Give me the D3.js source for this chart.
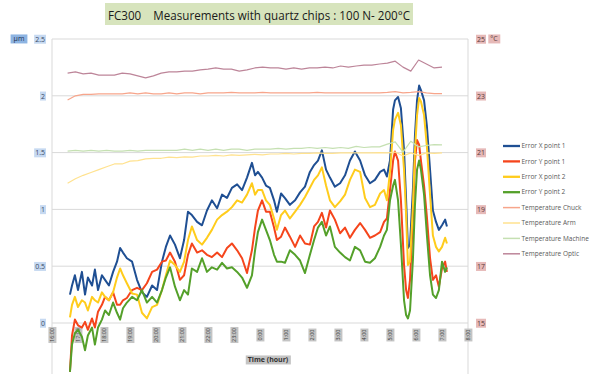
<!DOCTYPE html>
<html>
<head>
<meta charset="utf-8">
<script src="https://cdn.jsdelivr.net/npm/d3@7"></script>
<style>
body { margin: 0; background: #fff; }
svg { font-family: "Open Sans", "Liberation Sans", sans-serif; }
</style>
</head>
<body>
<svg id="chart" width="603" height="374"></svg>
<script>
// hours after 16:00
const errHours = [0.69,0.77,0.88,1.00,1.15,1.27,1.38,1.54,1.65,1.77,
	1.92,2.04,2.19,2.35,2.50,2.62,2.73,2.88,3.08,3.27,
	3.46,3.65,3.85,4.04,4.23,4.38,4.54,4.73,4.92,5.08,
	5.23,5.38,5.58,5.77,5.96,6.15,6.35,6.54,6.73,6.92,
	7.12,7.31,7.50,7.69,7.81,7.92,8.08,8.23,8.38,8.54,
	8.65,8.81,8.96,9.15,9.35,9.54,9.73,9.92,10.08,10.23,
	10.38,10.54,10.69,10.88,11.08,11.27,11.46,11.65,11.85,12.04,
	12.23,12.42,12.62,12.77,12.88,13.00,13.12,13.19,13.31,13.42,
	13.54,13.62,13.69,13.77,13.88,13.96,14.04,14.12,14.19,14.31,
	14.42,14.54,14.65,14.77,14.88,15.00,15.12,15.19]

const errXp1 = [0.25,0.33,0.42,0.29,0.45,0.25,0.40,0.33,0.47,0.29,
	0.42,0.38,0.33,0.45,0.54,0.66,0.62,0.57,0.54,0.38,
	0.27,0.23,0.33,0.29,0.54,0.67,0.77,0.69,0.57,0.73,
	0.98,0.95,0.89,0.86,0.99,1.08,1.01,1.13,1.10,1.19,
	1.22,1.17,1.28,1.41,1.30,1.33,1.28,1.21,1.19,1.08,
	0.98,1.14,1.10,1.04,1.08,1.15,1.20,1.33,1.39,1.43,
	1.52,1.35,1.28,1.20,1.23,1.30,1.43,1.51,1.43,1.30,
	1.23,1.26,1.33,1.35,1.29,1.43,1.88,1.96,1.99,1.89,
	1.52,1.08,0.66,0.69,1.17,1.65,1.96,2.09,2.05,1.96,
	1.73,1.35,0.99,0.89,0.82,0.86,0.91,0.85]

const errYp1 = [-0.43,-0.11,0.03,-0.02,-0.04,0.01,-0.06,0.04,-0.04,0.10,
	0.16,0.23,0.20,0.27,0.16,0.16,0.20,0.22,0.29,0.31,
	0.29,0.35,0.45,0.47,0.54,0.55,0.62,0.54,0.38,0.42,
	0.60,0.70,0.62,0.64,0.60,0.58,0.62,0.58,0.66,0.70,
	0.64,0.57,0.44,0.64,0.84,0.99,1.08,0.98,0.98,0.84,
	0.73,0.76,0.84,0.76,0.67,0.77,0.70,0.69,0.85,0.89,
	0.97,0.84,0.99,0.91,0.79,0.84,0.75,0.82,0.88,0.82,
	0.75,0.77,0.80,0.89,0.92,1.17,1.43,1.51,1.43,1.08,
	0.51,0.29,0.22,0.38,0.91,1.43,1.61,1.57,1.43,1.21,
	0.93,0.57,0.38,0.42,0.32,0.48,0.54,0.45]

const errXp2 = [0.05,0.16,0.23,0.14,0.20,0.18,0.11,0.23,0.20,0.18,
	0.27,0.23,0.20,0.27,0.40,0.48,0.42,0.35,0.26,0.25,
	0.09,0.04,0.14,0.16,0.29,0.42,0.55,0.51,0.45,0.54,
	0.73,0.85,0.73,0.69,0.75,0.82,0.91,0.95,0.98,1.02,
	1.08,1.06,1.13,1.23,1.13,1.17,1.17,1.08,1.04,0.92,
	0.82,0.95,0.99,0.92,0.98,1.04,1.11,1.19,1.26,1.30,
	1.37,1.21,1.08,1.02,1.07,1.13,1.26,1.35,1.33,1.10,
	1.02,1.04,1.14,1.17,1.08,1.33,1.70,1.79,1.85,1.74,
	1.35,0.95,0.51,0.54,1.02,1.52,1.83,1.98,1.95,1.83,
	1.55,1.13,0.77,0.67,0.63,0.67,0.75,0.70]

const errYp2 = [-0.43,-0.19,-0.09,-0.06,-0.12,-0.24,-0.11,-0.04,-0.19,-0.04,
	0.03,0.11,0.07,0.18,0.09,0.03,0.13,0.18,0.23,0.20,
	0.29,0.18,0.23,0.18,0.29,0.40,0.49,0.32,0.20,0.29,
	0.25,0.48,0.45,0.57,0.45,0.49,0.47,0.53,0.48,0.49,
	0.45,0.40,0.31,0.42,0.64,0.80,0.91,0.82,0.73,0.60,
	0.54,0.54,0.53,0.64,0.60,0.55,0.44,0.60,0.73,0.84,
	0.89,0.77,0.85,0.67,0.62,0.58,0.55,0.67,0.64,0.54,
	0.53,0.57,0.67,0.77,0.82,1.08,1.21,1.26,1.08,0.69,
	0.20,0.07,0.04,0.11,0.55,1.04,1.35,1.43,1.35,1.13,
	0.77,0.42,0.25,0.22,0.29,0.54,0.45,0.49]

const tempHours = [0.6,0.9,1.2,1.5,1.8,2.1,2.4,2.7,3.0,3.3,
	3.6,3.9,4.2,4.5,4.8,5.1,5.4,5.7,6.0,6.3,
	6.6,6.9,7.2,7.5,7.8,8.1,8.4,8.7,9.0,9.3,
	9.6,9.9,10.2,10.5,10.8,11.1,11.4,11.7,12.0,12.3,
	12.6,12.9,13.2,13.5,13.8,14.1,14.4,14.7,15.0]

const tempChuck = [22.85,23.00,23.05,23.05,23.07,23.07,23.07,23.07,23.10,23.07,
	23.10,23.07,23.07,23.10,23.07,23.10,23.10,23.07,23.10,23.10,
	23.10,23.12,23.10,23.10,23.10,23.12,23.10,23.10,23.10,23.10,
	23.10,23.10,23.12,23.10,23.10,23.10,23.10,23.10,23.10,23.10,
	23.10,23.12,23.15,23.10,23.12,23.15,23.10,23.08,23.08]

const tempArm = [19.92,20.08,20.20,20.30,20.40,20.50,20.60,20.60,20.70,20.72,
	20.78,20.80,20.80,20.84,20.82,20.85,20.84,20.88,20.88,20.90,
	20.88,20.92,20.90,20.92,20.94,20.92,20.95,20.95,20.97,20.95,
	20.97,20.97,20.99,20.97,20.97,20.99,20.99,20.99,20.99,20.99,
	21.00,20.99,21.02,20.88,20.99,20.90,20.99,20.97,20.99]

const tempMachine = [21.05,21.08,21.05,21.08,21.05,21.08,21.05,21.05,21.08,21.05,
	21.08,21.08,21.08,21.08,21.08,21.12,21.08,21.12,21.08,21.12,
	21.08,21.12,21.12,21.08,21.12,21.12,21.12,21.15,21.12,21.15,
	21.15,21.18,21.15,21.18,21.15,21.18,21.15,21.22,21.18,21.20,
	21.20,21.30,21.38,21.02,21.40,21.20,21.25,21.28,21.27]

const tempOptic = [23.80,23.84,23.77,23.80,23.73,23.73,23.73,23.80,23.77,23.70,
	23.63,23.70,23.80,23.84,23.84,23.87,23.87,23.91,23.94,23.98,
	23.94,23.94,23.87,23.91,23.98,24.01,23.98,23.98,23.94,23.98,
	23.94,23.98,23.98,24.01,23.98,24.05,24.01,24.05,24.08,24.08,
	24.12,24.15,24.22,24.01,23.87,24.26,24.12,23.98,24.01]

const umTicks = [0, 0.5, 1, 1.5, 2, 2.5]
const degTicks = [15, 17, 19, 21, 23, 25]
const hourLabels = ['16:00','17:00','18:00','19:00','20:00','21:00','22:00','23:00','0:00',
	'1:00','2:00','3:00','4:00','5:00','6:00','7:00','8:00']

const seriesNames = ['Error X point 1', 'Error Y point 1', 'Error X point 2', 'Error Y point 2',
	'Temperature Chuck', 'Temperature Arm', 'Temperature Machine', 'Temperature Optic']
const seriesColors = ['#1f4f93', '#f5451c', '#ffcc1c', '#54a02a',
	'#f7a58b', '#ffe28f', '#c5e0b2', '#bd8599']

const svg = d3.select('#chart')

let plotLeft = 52, plotRight = 468, plotTop = 39, plotBottom = 323

let x = d3.scaleLinear().domain([0, 16]).range([plotLeft, plotRight])
let yUm = d3.scaleLinear().domain([0, 2.5]).range([plotBottom, plotTop])
let yDeg = d3.scaleLinear().domain([15, 25]).range([plotBottom, plotTop])

let series = [
	{ hours: errHours, values: errXp1, y: yUm, w: 2 },
	{ hours: errHours, values: errYp1, y: yUm, w: 2 },
	{ hours: errHours, values: errXp2, y: yUm, w: 2 },
	{ hours: errHours, values: errYp2, y: yUm, w: 2 },
	{ hours: tempHours, values: tempChuck, y: yDeg, w: 1.2 },
	{ hours: tempHours, values: tempArm, y: yDeg, w: 1.2 },
	{ hours: tempHours, values: tempMachine, y: yDeg, w: 1.2 },
	{ hours: tempHours, values: tempOptic, y: yDeg, w: 1.2 }
]
series.forEach((s, i) => { s.name = seriesNames[i]; s.color = seriesColors[i] })

// put a filled box behind each label (same transform as the text)
function addBoxes(sel, fill, pad) {
	sel.each(function () {
		let t = d3.select(this)
		let b = this.getBBox()
		d3.select(this.parentNode).insert('rect', 'text')
			.attr('x', b.x - pad)
			.attr('y', b.y)
			.attr('width', b.width + pad * 2)
			.attr('height', b.height)
			.attr('transform', t.attr('transform'))
			.attr('fill', fill)
	})
}

function setupChart() {
	// title
	svg.append('rect')
		.attr('x', 105).attr('y', 3)
		.attr('width', 308).attr('height', 22)
		.attr('fill', '#d7e4bd')
	svg.append('text')
		.attr('x', 259).attr('y', 19.5)
		.attr('text-anchor', 'middle')
		.attr('font-size', 13)
		.attr('fill', '#1a1a1a')
		.attr('textLength', 302)
		.attr('lengthAdjust', 'spacingAndGlyphs')
		.style('white-space', 'pre')
		.text('FC300    Measurements with quartz chips : 100 N- 200°C')

	// grid
	svg.append('g').selectAll('line')
		.data(umTicks)
		.enter()
		.append('line')
			.attr('x1', plotLeft).attr('x2', plotRight)
			.attr('y1', d => yUm(d)).attr('y2', d => yUm(d))
			.attr('stroke', '#d9d9d9')
	svg.append('g').selectAll('line')
		.data([plotLeft, plotRight])
		.enter()
		.append('line')
			.attr('x1', d => d).attr('x2', d => d)
			.attr('y1', plotTop).attr('y2', 374)
			.attr('stroke', '#d9d9d9')

	// left axis
	let gL = svg.append('g')
		.attr('transform', 'translate(45,0)')
		.call(d3.axisLeft(yUm).tickValues(umTicks).tickSize(0).tickPadding(0).tickFormat(d3.format('')))
	gL.select('.domain').remove()
	gL.selectAll('text').attr('font-size', 7).attr('fill', '#3a4a66')
	gL.attr('font-family', null)
	addBoxes(gL.selectAll('text'), '#c6d9f1', 1)

	// right axis
	let gR = svg.append('g')
		.attr('transform', 'translate(477,0)')
		.call(d3.axisRight(yDeg).tickValues(degTicks).tickSize(0).tickPadding(0))
	gR.select('.domain').remove()
	gR.selectAll('text').attr('font-size', 7).attr('fill', '#5a3a3a')
	gR.attr('font-family', null)
	addBoxes(gR.selectAll('text'), '#e6b9b8', 1)

	// bottom axis
	let gB = svg.append('g')
		.attr('transform', 'translate(0,' + plotBottom + ')')
		.call(d3.axisBottom(x).tickValues(hourLabels.map((d, i) => i)).tickSize(0).tickFormat((d, i) => hourLabels[i]))
	gB.select('.domain').remove()
	gB.attr('font-family', null)
	gB.selectAll('text')
		.attr('font-size', 5.5)
		.attr('fill', '#404040')
		.attr('x', 0).attr('y', 0)
		.attr('dy', '0.35em')
		.attr('text-anchor', 'middle')
		.attr('transform', 'translate(0,12) rotate(-90)')
	addBoxes(gB.selectAll('text'), '#c4c4c4', 1)

	// unit labels
	let units = svg.append('g')
	units.append('text')
		.attr('x', 19).attr('y', 39).attr('dy', '0.35em')
		.attr('text-anchor', 'middle').attr('font-size', 7).attr('fill', '#1f2f4f')
		.text('µm')
	units.append('text')
		.attr('x', 494).attr('y', 39).attr('dy', '0.35em')
		.attr('text-anchor', 'middle').attr('font-size', 7).attr('fill', '#5a3a3a')
		.text('°C')
	units.append('text')
		.attr('x', 268).attr('y', 360).attr('dy', '0.35em')
		.attr('text-anchor', 'middle').attr('font-size', 7).attr('font-weight', 'bold').attr('fill', '#333')
		.text('Time (hour)')
	addBoxes(units.selectAll('text').filter((d, i) => i == 0), '#8db4e2', 3)
	addBoxes(units.selectAll('text').filter((d, i) => i == 1), '#e6b9b8', 2)
	addBoxes(units.selectAll('text').filter((d, i) => i == 2), '#c4c4c4', 2)

	// lines
	svg.append('g').selectAll('path')
		.data(series)
		.enter()
		.append('path')
			.attr('fill', 'none')
			.attr('stroke', d => d.color)
			.attr('stroke-width', d => d.w)
			.attr('stroke-linejoin', 'round')
			.attr('d', s => d3.line()
				.x(d => x(d))
				.y((d, i) => s.y(s.values[i]))(s.hours))

	// legend
	let legend = svg.append('g').selectAll('g')
		.data(series)
		.enter()
		.append('g')
			.attr('transform', (d, i) => 'translate(503,' + (146 + i * 15.4) + ')')
	legend.append('line')
		.attr('x1', 0).attr('x2', 17)
		.attr('stroke', d => d.color)
		.attr('stroke-width', d => d.w + 0.3)
	legend.append('text')
		.attr('x', 18.5).attr('dy', '0.35em')
		.attr('font-size', 6.5)
		.attr('fill', '#595959')
		.text(d => d.name)
}

setupChart()
</script>
</body>
</html>
